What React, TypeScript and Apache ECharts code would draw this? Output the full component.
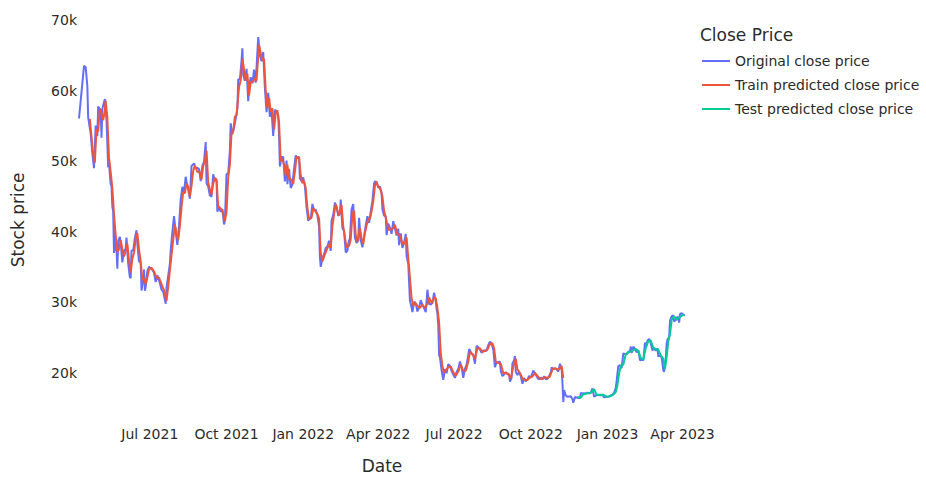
import React, { useEffect, useRef } from "react";
import * as echarts from "echarts";

const seriesNames = ["Original close price", "Train predicted close price", "Test predicted close price"];
const seriesColors = ["#636efa", "#EF553B", "#00cc96"];
const legendTitle = "Close Price";
const xAxisTitle = "Date";
const yAxisTitle = "Stock price";

const xTickDates = ["2021-07-01", "2021-10-01", "2022-01-01", "2022-04-01", "2022-07-01", "2022-10-01", "2023-01-01", "2023-04-01"];
const yTickValues = [20000, 30000, 40000, 50000, 60000, 70000];
const xRange = ["2021-04-07", "2023-04-04"];
const yRange = [13198, 70155];

const originalClose: [string, number][] = [
  ["2021-04-07", 56048], ["2021-04-10", 59794], ["2021-04-13", 63503], ["2021-04-15", 63314], ["2021-04-17", 60683],
  ["2021-04-18", 56216], ["2021-04-21", 53906], ["2021-04-23", 51093], ["2021-04-25", 49004], ["2021-04-27", 55033],
  ["2021-04-29", 53555], ["2021-04-30", 57750], ["2021-05-03", 57200], ["2021-05-04", 53333], ["2021-05-05", 57424],
  ["2021-05-08", 58803], ["2021-05-10", 55859], ["2021-05-12", 49150], ["2021-05-13", 49716], ["2021-05-15", 46760],
  ["2021-05-16", 46456], ["2021-05-17", 43538], ["2021-05-18", 42910], ["2021-05-19", 37002], ["2021-05-20", 40782],
  ["2021-05-21", 37305], ["2021-05-22", 37536], ["2021-05-23", 34770], ["2021-05-24", 38706], ["2021-05-26", 39294],
  ["2021-05-27", 38437], ["2021-05-29", 35678], ["2021-05-31", 37332], ["2021-06-02", 37575], ["2021-06-03", 39187],
  ["2021-06-05", 35520], ["2021-06-07", 33560], ["2021-06-08", 33472], ["2021-06-09", 37345], ["2021-06-11", 37337],
  ["2021-06-13", 39097], ["2021-06-15", 40218], ["2021-06-16", 38324], ["2021-06-18", 35787], ["2021-06-20", 35698],
  ["2021-06-21", 31676], ["2021-06-22", 32506], ["2021-06-24", 34649], ["2021-06-25", 31637], ["2021-06-26", 32186],
  ["2021-06-28", 34434], ["2021-06-30", 35040], ["2021-07-03", 34742], ["2021-07-06", 34235], ["2021-07-08", 32877],
  ["2021-07-10", 33824], ["2021-07-13", 32702], ["2021-07-15", 31796], ["2021-07-17", 31533], ["2021-07-20", 29807],
  ["2021-07-21", 32110], ["2021-07-23", 33746], ["2021-07-25", 35404], ["2021-07-26", 37337], ["2021-07-28", 39995],
  ["2021-07-30", 42236], ["2021-08-01", 39974], ["2021-08-03", 38152], ["2021-08-05", 40870], ["2021-08-07", 44555],
  ["2021-08-09", 46365], ["2021-08-11", 45594], ["2021-08-13", 47793], ["2021-08-14", 47097], ["2021-08-16", 45981],
  ["2021-08-18", 44695], ["2021-08-20", 49321], ["2021-08-22", 49546], ["2021-08-23", 49705], ["2021-08-25", 48997],
  ["2021-08-27", 49058], ["2021-08-29", 48897], ["2021-08-31", 47166], ["2021-09-02", 49327], ["2021-09-04", 49944],
  ["2021-09-06", 52698], ["2021-09-07", 46868], ["2021-09-09", 46395], ["2021-09-11", 45161], ["2021-09-13", 44963],
  ["2021-09-15", 48144], ["2021-09-17", 47260], ["2021-09-19", 47288], ["2021-09-20", 42844], ["2021-09-22", 43565],
  ["2021-09-24", 42839], ["2021-09-26", 43208], ["2021-09-28", 41034], ["2021-09-29", 41564], ["2021-10-01", 48200],
  ["2021-10-03", 48233], ["2021-10-05", 51514], ["2021-10-06", 55362], ["2021-10-08", 53805], ["2021-10-10", 54771],
  ["2021-10-12", 56041], ["2021-10-14", 57401], ["2021-10-15", 61593], ["2021-10-17", 61553], ["2021-10-19", 64262],
  ["2021-10-20", 65993], ["2021-10-21", 62210], ["2021-10-23", 61393], ["2021-10-25", 63078], ["2021-10-27", 58482],
  ["2021-10-28", 60622], ["2021-10-30", 61888], ["2021-11-01", 61004], ["2021-11-03", 62970], ["2021-11-05", 61125],
  ["2021-11-08", 67566], ["2021-11-10", 64995], ["2021-11-12", 64155], ["2021-11-14", 65466], ["2021-11-16", 60369],
  ["2021-11-18", 56942], ["2021-11-20", 59697], ["2021-11-22", 56289], ["2021-11-24", 57149], ["2021-11-26", 53570],
  ["2021-11-28", 57291], ["2021-11-30", 57025], ["2021-12-02", 56509], ["2021-12-03", 53602], ["2021-12-04", 49253],
  ["2021-12-06", 50582], ["2021-12-08", 50581], ["2021-12-10", 47128], ["2021-12-12", 50098], ["2021-12-13", 46737],
  ["2021-12-15", 48912], ["2021-12-17", 46202], ["2021-12-19", 46681], ["2021-12-21", 48937], ["2021-12-23", 50809],
  ["2021-12-25", 50429], ["2021-12-27", 50640], ["2021-12-28", 47588], ["2021-12-30", 47178], ["2022-01-01", 47686],
  ["2022-01-03", 46458], ["2022-01-05", 43537], ["2022-01-07", 41557], ["2022-01-09", 41911], ["2022-01-10", 41821],
  ["2022-01-12", 43949], ["2022-01-14", 43097], ["2022-01-16", 43113], ["2022-01-18", 42375], ["2022-01-20", 40681],
  ["2022-01-21", 36457], ["2022-01-22", 35030], ["2022-01-24", 36276], ["2022-01-26", 36825], ["2022-01-28", 37717],
  ["2022-01-30", 37917], ["2022-02-01", 38743], ["2022-02-03", 37297], ["2022-02-04", 41574], ["2022-02-06", 42407],
  ["2022-02-08", 44118], ["2022-02-10", 43565], ["2022-02-12", 42258], ["2022-02-14", 42587], ["2022-02-15", 44576],
  ["2022-02-17", 40539], ["2022-02-19", 40122], ["2022-02-21", 37069], ["2022-02-23", 37297], ["2022-02-24", 38333],
  ["2022-02-26", 39105], ["2022-02-28", 43193], ["2022-03-02", 43925], ["2022-03-04", 39148], ["2022-03-06", 38420],
  ["2022-03-08", 38734], ["2022-03-09", 41983], ["2022-03-11", 38794], ["2022-03-13", 37792], ["2022-03-15", 39338],
  ["2022-03-17", 40951], ["2022-03-19", 42201], ["2022-03-21", 41248], ["2022-03-23", 42892], ["2022-03-25", 44331],
  ["2022-03-27", 46820], ["2022-03-28", 47128], ["2022-03-30", 47063], ["2022-04-01", 46281], ["2022-04-03", 46407],
  ["2022-04-05", 45555], ["2022-04-06", 43206], ["2022-04-08", 42287], ["2022-04-10", 42207], ["2022-04-11", 39521],
  ["2022-04-13", 41147], ["2022-04-15", 40553], ["2022-04-17", 39716], ["2022-04-19", 41502], ["2022-04-21", 40480],
  ["2022-04-23", 39469], ["2022-04-25", 40427], ["2022-04-26", 38117], ["2022-04-28", 39773], ["2022-04-30", 37714],
  ["2022-05-02", 38469], ["2022-05-04", 39698], ["2022-05-05", 36575], ["2022-05-07", 35468], ["2022-05-09", 30297],
  ["2022-05-11", 29268], ["2022-05-12", 28627], ["2022-05-14", 30093], ["2022-05-16", 29854], ["2022-05-18", 28715],
  ["2022-05-20", 29268], ["2022-05-22", 30323], ["2022-05-24", 29654], ["2022-05-26", 29183], ["2022-05-28", 28627],
  ["2022-05-30", 31792], ["2022-06-01", 29799], ["2022-06-03", 29706], ["2022-06-05", 29906], ["2022-06-07", 31371],
  ["2022-06-09", 30112], ["2022-06-10", 29083], ["2022-06-11", 28360], ["2022-06-12", 26762], ["2022-06-13", 22487],
  ["2022-06-14", 22206], ["2022-06-16", 20381], ["2022-06-18", 19017], ["2022-06-20", 20554], ["2022-06-22", 19965],
  ["2022-06-24", 21232], ["2022-06-26", 21028], ["2022-06-28", 20280], ["2022-06-30", 19785], ["2022-07-02", 19298],
  ["2022-07-04", 20180], ["2022-07-06", 20548], ["2022-07-08", 21637], ["2022-07-10", 20847], ["2022-07-12", 19320],
  ["2022-07-14", 20590], ["2022-07-16", 21195], ["2022-07-18", 22485], ["2022-07-19", 23390], ["2022-07-20", 23231],
  ["2022-07-22", 22684], ["2022-07-24", 22579], ["2022-07-26", 21310], ["2022-07-28", 23843], ["2022-07-30", 23652],
  ["2022-08-01", 23337], ["2022-08-03", 22846], ["2022-08-05", 23176], ["2022-08-07", 23175], ["2022-08-09", 23163],
  ["2022-08-11", 23948], ["2022-08-13", 24442], ["2022-08-14", 24305], ["2022-08-15", 24136], ["2022-08-17", 23335],
  ["2022-08-19", 20834], ["2022-08-21", 21519], ["2022-08-23", 21528], ["2022-08-25", 21601], ["2022-08-26", 20261],
  ["2022-08-28", 19555], ["2022-08-30", 19804], ["2022-09-01", 20127], ["2022-09-03", 19832], ["2022-09-05", 19796],
  ["2022-09-06", 18791], ["2022-09-08", 19323], ["2022-09-09", 21361], ["2022-09-11", 21826], ["2022-09-12", 22396],
  ["2022-09-13", 20173], ["2022-09-15", 19701], ["2022-09-17", 20127], ["2022-09-19", 19545], ["2022-09-21", 18484],
  ["2022-09-23", 19296], ["2022-09-25", 18803], ["2022-09-27", 19083], ["2022-09-29", 19593], ["2022-10-01", 19312],
  ["2022-10-04", 20337], ["2022-10-06", 19957], ["2022-10-08", 19547], ["2022-10-10", 19133], ["2022-10-12", 19153],
  ["2022-10-13", 19382], ["2022-10-15", 19068], ["2022-10-17", 19545], ["2022-10-19", 19124], ["2022-10-21", 19172],
  ["2022-10-23", 19567], ["2022-10-25", 20095], ["2022-10-26", 20772], ["2022-10-28", 20596], ["2022-10-30", 20635],
  ["2022-11-01", 20495], ["2022-11-03", 20209], ["2022-11-05", 21301], ["2022-11-07", 20605], ["2022-11-08", 18541],
  ["2022-11-09", 15880], ["2022-11-10", 17586], ["2022-11-12", 16799], ["2022-11-14", 16618], ["2022-11-16", 16669],
  ["2022-11-18", 16699], ["2022-11-20", 16291], ["2022-11-21", 15787], ["2022-11-23", 16604], ["2022-11-25", 16521],
  ["2022-11-27", 16457], ["2022-11-29", 16445], ["2022-11-30", 17168], ["2022-12-02", 17092], ["2022-12-04", 17130],
  ["2022-12-06", 17089], ["2022-12-08", 17224], ["2022-12-10", 17128], ["2022-12-12", 17209], ["2022-12-14", 17804],
  ["2022-12-16", 16633], ["2022-12-18", 16780], ["2022-12-20", 16904], ["2022-12-22", 16830], ["2022-12-24", 16838],
  ["2022-12-26", 16920], ["2022-12-28", 16548], ["2022-12-30", 16603], ["2023-01-01", 16625], ["2023-01-03", 16680],
  ["2023-01-05", 16832], ["2023-01-07", 16946], ["2023-01-09", 17196], ["2023-01-11", 17943], ["2023-01-12", 18847],
  ["2023-01-13", 19930], ["2023-01-14", 20955], ["2023-01-16", 21133], ["2023-01-18", 20678], ["2023-01-20", 22777],
  ["2023-01-22", 22707], ["2023-01-24", 22636], ["2023-01-26", 23009], ["2023-01-28", 23075], ["2023-01-29", 23745],
  ["2023-01-30", 22841], ["2023-02-01", 23725], ["2023-02-03", 23431], ["2023-02-05", 22932], ["2023-02-07", 23241],
  ["2023-02-09", 21796], ["2023-02-11", 21868], ["2023-02-13", 21779], ["2023-02-15", 24322], ["2023-02-16", 23517],
  ["2023-02-18", 24573], ["2023-02-20", 24840], ["2023-02-22", 24187], ["2023-02-24", 23172], ["2023-02-26", 23557],
  ["2023-02-28", 23147], ["2023-03-02", 23475], ["2023-03-03", 22362], ["2023-03-05", 22430], ["2023-03-07", 22216],
  ["2023-03-09", 20363], ["2023-03-10", 20187], ["2023-03-12", 22163], ["2023-03-13", 24197], ["2023-03-14", 24747],
  ["2023-03-16", 25052], ["2023-03-17", 27423], ["2023-03-19", 28038], ["2023-03-21", 28175], ["2023-03-22", 27307],
  ["2023-03-24", 27494], ["2023-03-26", 27991], ["2023-03-28", 27139], ["2023-03-29", 28348], ["2023-03-31", 28478],
  ["2023-04-02", 28199], ["2023-04-04", 28170],
];

const trainPredicted: [string, number][] = [
  ["2021-04-20", 56000], ["2021-04-22", 53500], ["2021-04-24", 51000], ["2021-04-26", 49800], ["2021-04-28", 54500],
  ["2021-04-30", 54200], ["2021-05-02", 57400], ["2021-05-04", 56800], ["2021-05-06", 55800], ["2021-05-08", 57200],
  ["2021-05-09", 58600], ["2021-05-11", 56200], ["2021-05-13", 50500], ["2021-05-15", 48500], ["2021-05-17", 46200],
  ["2021-05-19", 42500], ["2021-05-21", 39500], ["2021-05-23", 37200], ["2021-05-25", 37500], ["2021-05-27", 38800],
  ["2021-05-29", 37600], ["2021-05-31", 36500], ["2021-06-02", 37200], ["2021-06-04", 38300], ["2021-06-06", 36000],
  ["2021-06-08", 34200], ["2021-06-10", 36200], ["2021-06-12", 37000], ["2021-06-14", 39000], ["2021-06-16", 39800],
  ["2021-06-18", 37500], ["2021-06-20", 35800], ["2021-06-22", 33200], ["2021-06-24", 33300], ["2021-06-26", 32600],
  ["2021-06-28", 33500], ["2021-06-30", 34700], ["2021-07-03", 34900], ["2021-07-06", 34400], ["2021-07-09", 33500],
  ["2021-07-12", 33500], ["2021-07-15", 32600], ["2021-07-18", 31700], ["2021-07-21", 30200], ["2021-07-23", 32200],
  ["2021-07-26", 35600], ["2021-07-28", 37800], ["2021-07-31", 41000], ["2021-08-02", 39800], ["2021-08-04", 38800],
  ["2021-08-06", 40800], ["2021-08-08", 43500], ["2021-08-10", 45600], ["2021-08-12", 45500], ["2021-08-14", 46800],
  ["2021-08-16", 46400], ["2021-08-18", 45000], ["2021-08-20", 46500], ["2021-08-22", 48600], ["2021-08-24", 49400],
  ["2021-08-27", 48500], ["2021-08-30", 48400], ["2021-09-01", 47400], ["2021-09-03", 49300], ["2021-09-05", 50000],
  ["2021-09-07", 51500], ["2021-09-09", 47000], ["2021-09-11", 46000], ["2021-09-13", 45300], ["2021-09-15", 46800],
  ["2021-09-17", 47600], ["2021-09-19", 47400], ["2021-09-21", 43500], ["2021-09-23", 43400], ["2021-09-26", 43000],
  ["2021-09-29", 41500], ["2021-10-01", 42800], ["2021-10-03", 47700], ["2021-10-05", 49500], ["2021-10-07", 54000],
  ["2021-10-09", 54200], ["2021-10-11", 56300], ["2021-10-13", 56500], ["2021-10-16", 60500], ["2021-10-18", 61500],
  ["2021-10-20", 64500], ["2021-10-22", 63000], ["2021-10-24", 61400], ["2021-10-26", 62400], ["2021-10-28", 59300],
  ["2021-10-30", 61200], ["2021-11-02", 61300], ["2021-11-04", 61800], ["2021-11-06", 61400], ["2021-11-09", 66500],
  ["2021-11-11", 65300], ["2021-11-13", 64300], ["2021-11-15", 64500], ["2021-11-17", 60000], ["2021-11-19", 57500],
  ["2021-11-21", 59000], ["2021-11-23", 57000], ["2021-11-25", 57500], ["2021-11-27", 54500], ["2021-11-29", 56800],
  ["2021-12-01", 57200], ["2021-12-03", 55500], ["2021-12-05", 50000], ["2021-12-07", 50300], ["2021-12-09", 49500],
  ["2021-12-11", 48000], ["2021-12-13", 49500], ["2021-12-15", 47500], ["2021-12-17", 47500], ["2021-12-20", 46800],
  ["2021-12-22", 48500], ["2021-12-24", 50600], ["2021-12-27", 50500], ["2021-12-29", 48000], ["2021-12-31", 46900],
  ["2022-01-02", 47200], ["2022-01-04", 46200], ["2022-01-06", 43400], ["2022-01-08", 41800], ["2022-01-11", 42000],
  ["2022-01-13", 43300], ["2022-01-15", 43000], ["2022-01-18", 42500], ["2022-01-20", 41900], ["2022-01-22", 37000],
  ["2022-01-24", 35800], ["2022-01-27", 36800], ["2022-01-30", 37700], ["2022-02-01", 38200], ["2022-02-03", 37700],
  ["2022-02-05", 40800], ["2022-02-07", 42500], ["2022-02-09", 43900], ["2022-02-11", 43000], ["2022-02-13", 42300],
  ["2022-02-16", 43800], ["2022-02-18", 40800], ["2022-02-20", 39200], ["2022-02-22", 37800], ["2022-02-25", 38000],
  ["2022-02-27", 38900], ["2022-03-01", 42500], ["2022-03-03", 43000], ["2022-03-05", 39500], ["2022-03-07", 38600],
  ["2022-03-10", 40500], ["2022-03-12", 39000], ["2022-03-14", 38300], ["2022-03-16", 39800], ["2022-03-18", 40900],
  ["2022-03-20", 41800], ["2022-03-22", 41800], ["2022-03-24", 42900], ["2022-03-26", 44300], ["2022-03-28", 46500],
  ["2022-03-30", 47100], ["2022-04-01", 46300], ["2022-04-03", 46200], ["2022-04-06", 45000], ["2022-04-08", 43000],
  ["2022-04-11", 41500], ["2022-04-13", 40300], ["2022-04-16", 40300], ["2022-04-19", 40500], ["2022-04-21", 41000],
  ["2022-04-24", 39600], ["2022-04-26", 39700], ["2022-04-28", 38900], ["2022-05-01", 38200], ["2022-05-03", 38500],
  ["2022-05-05", 39200], ["2022-05-07", 36300], ["2022-05-09", 33500], ["2022-05-11", 30600], ["2022-05-13", 29500],
  ["2022-05-15", 30000], ["2022-05-18", 29500], ["2022-05-21", 29200], ["2022-05-24", 29700], ["2022-05-27", 29200],
  ["2022-05-30", 29800], ["2022-06-01", 30700], ["2022-06-04", 29900], ["2022-06-07", 30700], ["2022-06-09", 30600],
  ["2022-06-11", 29200], ["2022-06-13", 27200], ["2022-06-15", 22800], ["2022-06-17", 21000], ["2022-06-19", 20000],
  ["2022-06-21", 20400], ["2022-06-24", 20800], ["2022-06-27", 20900], ["2022-06-30", 20100], ["2022-07-03", 19600],
  ["2022-07-06", 20200], ["2022-07-09", 21200], ["2022-07-12", 20300], ["2022-07-15", 20300], ["2022-07-18", 21600],
  ["2022-07-20", 23000], ["2022-07-23", 22700], ["2022-07-26", 22000], ["2022-07-29", 23500], ["2022-08-01", 23500],
  ["2022-08-04", 23000], ["2022-08-07", 23100], ["2022-08-10", 23300], ["2022-08-13", 24100], ["2022-08-16", 24200],
  ["2022-08-18", 23500], ["2022-08-20", 21600], ["2022-08-23", 21400], ["2022-08-26", 21300], ["2022-08-29", 20000],
  ["2022-09-01", 20000], ["2022-09-04", 19900], ["2022-09-07", 19200], ["2022-09-10", 20900], ["2022-09-13", 22000],
  ["2022-09-15", 20500], ["2022-09-18", 20000], ["2022-09-21", 19200], ["2022-09-24", 19000], ["2022-09-27", 19000],
  ["2022-09-30", 19400], ["2022-10-03", 19500], ["2022-10-06", 20000], ["2022-10-09", 19600], ["2022-10-12", 19200],
  ["2022-10-15", 19200], ["2022-10-18", 19400], ["2022-10-21", 19300], ["2022-10-24", 19500], ["2022-10-27", 20500],
  ["2022-10-30", 20700], ["2022-11-02", 20500], ["2022-11-05", 20600], ["2022-11-07", 21000], ["2022-11-09", 19300],
];

const testPredicted: [string, number][] = [
  ["2022-11-26", 16600], ["2022-11-30", 16500], ["2022-12-03", 17000], ["2022-12-07", 17100], ["2022-12-11", 17150],
  ["2022-12-14", 17400], ["2022-12-16", 17700], ["2022-12-19", 16900], ["2022-12-23", 16900], ["2022-12-27", 16900],
  ["2022-12-31", 16650], ["2023-01-04", 16700], ["2023-01-08", 16950], ["2023-01-11", 17300], ["2023-01-13", 18300],
  ["2023-01-15", 20000], ["2023-01-17", 21000], ["2023-01-20", 21200], ["2023-01-23", 22700], ["2023-01-26", 22900],
  ["2023-01-29", 23100], ["2023-02-01", 23200], ["2023-02-04", 23400], ["2023-02-07", 23100], ["2023-02-10", 22100],
  ["2023-02-13", 21900], ["2023-02-16", 23600], ["2023-02-19", 24500], ["2023-02-22", 24600], ["2023-02-25", 23500],
  ["2023-02-28", 23400], ["2023-03-03", 23300], ["2023-03-06", 22500], ["2023-03-09", 22000], ["2023-03-11", 20600],
  ["2023-03-13", 22300], ["2023-03-15", 24500], ["2023-03-17", 25500], ["2023-03-19", 27500], ["2023-03-22", 28000],
  ["2023-03-25", 27600], ["2023-03-28", 27800], ["2023-03-31", 28100], ["2023-04-03", 28300],
];

const MONTHS = ["Jan", "Feb", "Mar", "Apr", "May", "Jun", "Jul", "Aug", "Sep", "Oct", "Nov", "Dec"];

function ts(s: string): number {
  const [y, m, d] = s.split("-").map(Number);
  return new Date(y, m - 1, d).getTime();
}

const FONT = "'DejaVu Sans', Verdana, sans-serif";
const TEXT = "#2b2b2b";

export default function App() {
  const ref = useRef<HTMLDivElement>(null);

  useEffect(() => {
    document.body.style.margin = "0";
    if (!ref.current) return;
    const chart = echarts.init(ref.current, undefined, { renderer: "svg", width: 926, height: 479 });
    const toData = (arr: [string, number][]) => arr.map(([d, v]) => [ts(d), v]);

    chart.setOption({
      animation: false,
      backgroundColor: "#ffffff",
      textStyle: { fontFamily: FONT },
      grid: { left: 79, right: 241, top: 18.9, bottom: 53.4, containLabel: false },
      xAxis: {
        type: "value",
        min: ts(xRange[0]),
        max: ts(xRange[1]),
        name: xAxisTitle,
        nameLocation: "middle",
        nameGap: 36,
        nameTextStyle: { fontSize: 17, color: TEXT, fontFamily: FONT },
        axisLine: { show: false },
        axisTick: { show: false },
        splitLine: { show: false },
        axisLabel: {
          customValues: xTickDates.map(ts),
          fontSize: 14,
          color: TEXT,
          fontFamily: FONT,
          margin: 6,
          formatter: (v: number) => {
            const d = new Date(v);
            return MONTHS[d.getMonth()] + " " + d.getFullYear();
          },
        },
      },
      yAxis: {
        type: "value",
        min: yRange[0],
        max: yRange[1],
        name: yAxisTitle,
        nameLocation: "middle",
        nameGap: 53,
        nameTextStyle: { fontSize: 17, color: TEXT, fontFamily: FONT },
        axisLine: { show: false },
        axisTick: { show: false },
        splitLine: { show: false },
        axisLabel: {
          customValues: yTickValues,
          fontSize: 14,
          color: TEXT,
          fontFamily: FONT,
          margin: 2,
          formatter: (v: number) => Math.round(v / 1000) + "k",
        },
      },
      legend: {
        orient: "vertical",
        left: 702,
        top: 53,
        padding: 0,
        icon: "rect",
        itemWidth: 28,
        itemHeight: 2,
        itemGap: 8,
        data: seriesNames,
        textStyle: { fontSize: 14, color: TEXT, fontFamily: FONT, lineHeight: 16, padding: [0, 0, 0, 0] },
      },
      graphic: [
        {
          type: "text",
          left: 700,
          top: 26,
          style: { text: legendTitle, fontSize: 17, fill: TEXT, fontFamily: FONT },
        },
      ],
      series: [
        {
          name: seriesNames[0],
          type: "line",
          data: toData(originalClose),
          showSymbol: false,
          symbol: "none",
          lineStyle: { width: 2, color: seriesColors[0] },
          itemStyle: { color: seriesColors[0] },
        },
        {
          name: seriesNames[1],
          type: "line",
          data: toData(trainPredicted),
          showSymbol: false,
          symbol: "none",
          lineStyle: { width: 2, color: seriesColors[1] },
          itemStyle: { color: seriesColors[1] },
        },
        {
          name: seriesNames[2],
          type: "line",
          data: toData(testPredicted),
          showSymbol: false,
          symbol: "none",
          lineStyle: { width: 2, color: seriesColors[2] },
          itemStyle: { color: seriesColors[2] },
        },
      ],
    });

    return () => chart.dispose();
  }, []);

  return <div ref={ref} style={{ position: "absolute", left: 0, top: 0, width: 926, height: 479 }} />;
}
